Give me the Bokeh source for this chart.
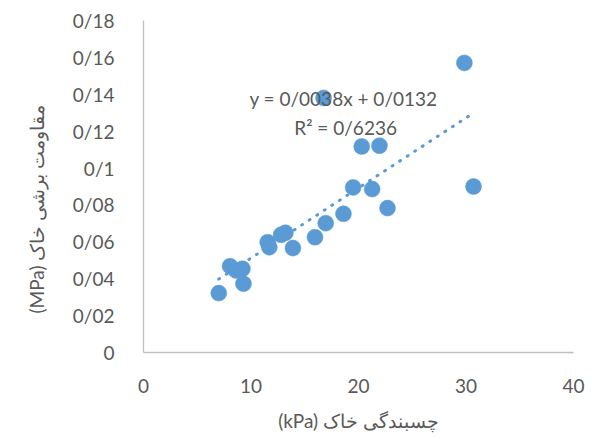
from bokeh.plotting import figure
from bokeh.models import Label, FixedTicker, Range1d, Title
from bokeh.embed import file_html
from bokeh.resources import INLINE

# data
cohesion_kpa = [7.0, 8.05, 8.6, 9.2, 9.3, 11.55, 11.7, 12.8, 13.2, 13.9, 15.95,
                16.95, 18.6, 16.75, 20.3, 21.95, 19.5, 21.27, 30.7, 22.7, 29.85]
shear_mpa = [0.0322, 0.0468, 0.0445, 0.0454, 0.0373, 0.0598, 0.0571, 0.0638, 0.0649,
             0.0566, 0.0625, 0.0701, 0.0752, 0.138, 0.1117, 0.1121, 0.0895, 0.0886,
             0.090, 0.0783, 0.157]
trend_slope = 0.0038
trend_intercept = 0.0132
eq_text = "y = 0/0038x + 0/0132"
r2_text = "R² = 0/6236"

x_ticks = [0, 10, 20, 30, 40]
y_ticks = [0, 0.02, 0.04, 0.06, 0.08, 0.1, 0.12, 0.14, 0.16, 0.18]
y_tick_labels = ["0", "0/02", "0/04", "0/06", "0/08", "0/1", "0/12", "0/14", "0/16", "0/18"]

x_title = "(kPa) چسبندگی خاک"
y_title = "(MPa) مقاومت برشی خاک"

BLUE = "#5B9BD5"
GRAY_TXT = "#595959"
AX = "#BFBFBF"

p = figure(width=592, height=439, output_backend="svg", toolbar_location=None,
           x_range=Range1d(0, 40), y_range=Range1d(0, 0.18),
           min_border_left=143, min_border_right=19, min_border_top=20, min_border_bottom=87)
p.outline_line_color = None
p.xgrid.grid_line_color = None
p.ygrid.grid_line_color = None

# trend line
tx = [min(cohesion_kpa), max(cohesion_kpa)]
ty = [trend_slope * v + trend_intercept for v in tx]
p.line(tx, ty, line_color=BLUE, line_width=3, line_dash="1 8", line_cap="round")

p.scatter(cohesion_kpa, shear_mpa, size=16, fill_color=BLUE, line_color=BLUE, line_width=0.5)

for ax in (p.xaxis[0], p.yaxis[0]):
    ax.axis_line_color = AX
    ax.axis_line_width = 1.3
    ax.major_tick_line_color = None
    ax.minor_tick_line_color = None
    ax.major_label_text_color = GRAY_TXT
    ax.major_label_text_font = "Lato"
    ax.major_label_text_font_size = "19px"
    ax.axis_label_text_color = GRAY_TXT
    ax.axis_label_text_font = "Lato"
    ax.axis_label_text_font_size = "19px"
    ax.axis_label_text_font_style = "normal"

p.xaxis.ticker = FixedTicker(ticks=x_ticks)
p.yaxis.ticker = FixedTicker(ticks=y_ticks)
p.yaxis.major_label_overrides = {t: l for t, l in zip(y_ticks, y_tick_labels)}
p.xaxis.major_label_standoff = 20
p.yaxis.major_label_standoff = 23
p.xaxis.axis_label = x_title
p.xaxis.axis_label_standoff = 13

# y-axis title, sitting a little below the frame middle as in the reference
p.add_layout(Title(text=y_title, align="left", offset=39, standoff=39, vertical_align="top",
                   text_font="Lato", text_font_size="19px", text_color=GRAY_TXT,
                   text_font_style="normal"), "left")

p.add_layout(Label(x=18.6, y=0.1377, text=eq_text, text_align="center", text_baseline="middle",
                   text_font="Lato", text_font_size="19px", text_color=GRAY_TXT))
p.add_layout(Label(x=18.8, y=0.1220, text=r2_text, text_align="center", text_baseline="middle",
                   text_font="Lato", text_font_size="19px", text_color=GRAY_TXT))

open("out.html", "w").write(file_html(p, INLINE))
